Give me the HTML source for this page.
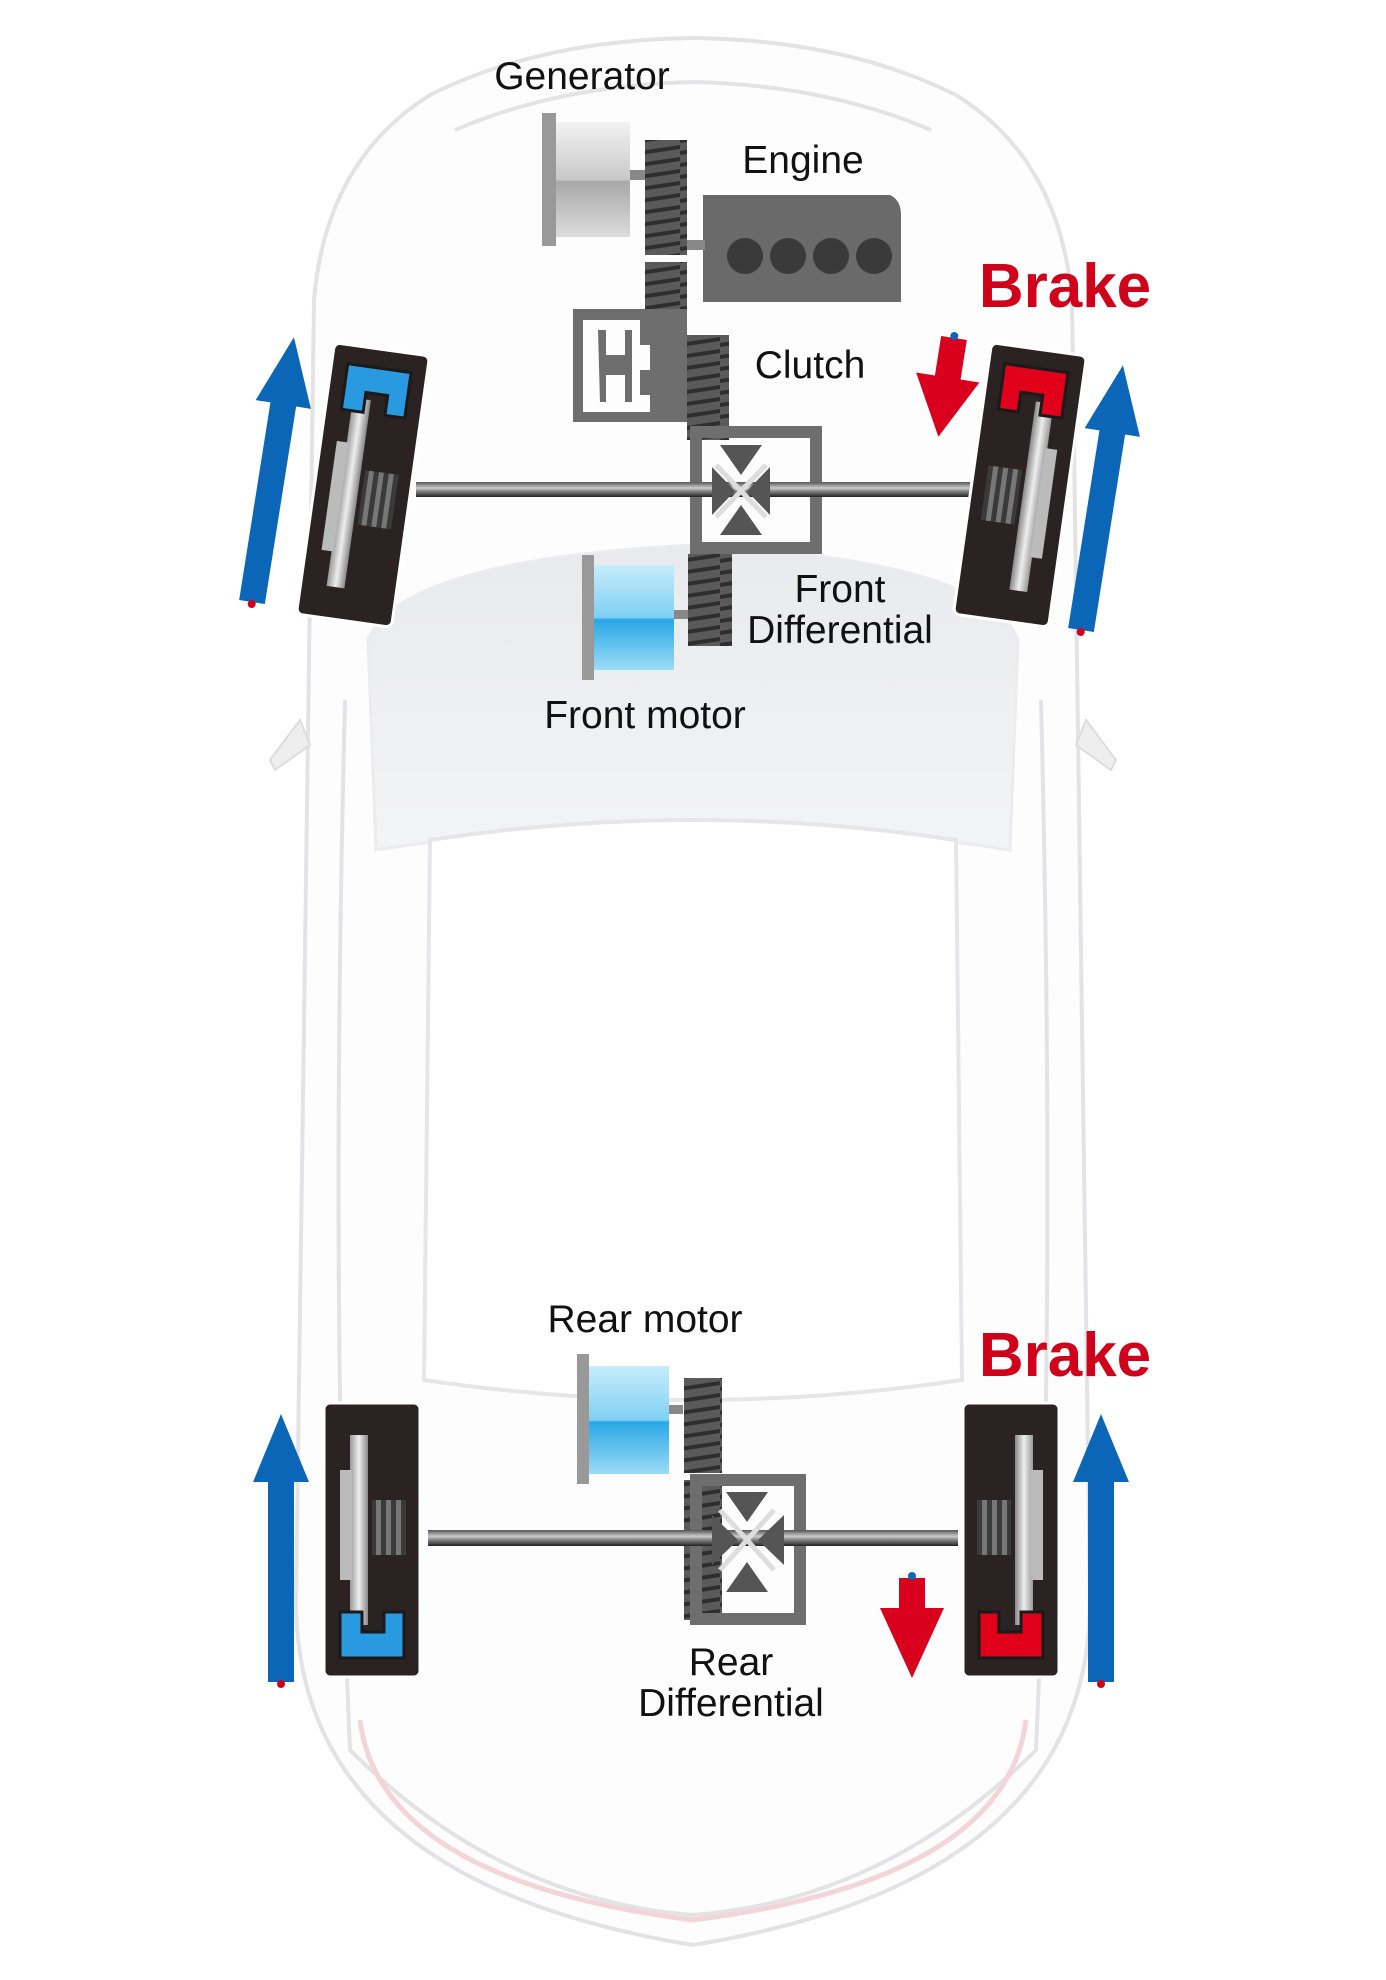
<!DOCTYPE html>
<html><head><meta charset="utf-8"><style>
html,body{margin:0;padding:0;background:#fff;}
svg{display:block;}
text{font-family:"Liberation Sans",sans-serif;}
</style></head><body>
<svg width="1386" height="1980" viewBox="0 0 1386 1980" xmlns="http://www.w3.org/2000/svg">
<defs>
<linearGradient id="ws" x1="0" y1="0" x2="0" y2="1"><stop offset="0" stop-color="#e9eaed"/><stop offset="1" stop-color="#f3f4f6"/></linearGradient>
<linearGradient id="blue" x1="0" y1="0" x2="0" y2="1"><stop offset="0" stop-color="#c8ecfb"/><stop offset="0.5" stop-color="#7fd0f3"/><stop offset="0.52" stop-color="#2aa7e6"/><stop offset="1" stop-color="#9bdcf6"/></linearGradient>
<linearGradient id="gen" x1="0" y1="0" x2="0" y2="1"><stop offset="0" stop-color="#f2f2f2"/><stop offset="0.5" stop-color="#c9c9c9"/><stop offset="0.52" stop-color="#a8a8a8"/><stop offset="1" stop-color="#dcdcdc"/></linearGradient>
<linearGradient id="axle" x1="0" y1="0" x2="0" y2="1"><stop offset="0" stop-color="#555"/><stop offset="0.4" stop-color="#ccc"/><stop offset="0.6" stop-color="#888"/><stop offset="1" stop-color="#222"/></linearGradient>
<linearGradient id="disc" x1="0" y1="0" x2="1" y2="0"><stop offset="0" stop-color="#999"/><stop offset="0.5" stop-color="#eee"/><stop offset="1" stop-color="#888"/></linearGradient>
<pattern id="gear" width="40" height="12" patternUnits="userSpaceOnUse"><rect width="40" height="12" fill="#5a5a5a"/><path d="M0 9 L40 3" stroke="#2e2e2e" stroke-width="4"/></pattern>
<g id="wheel">
<rect x="-48" y="-137" width="96" height="274" rx="6" fill="#2b2321" stroke="#fff" stroke-width="3"/>
<rect x="-22" y="-85" width="18" height="190" fill="url(#disc)"/>
<rect x="-32" y="-40" width="12" height="110" fill="#bbb"/>
<rect x="0" y="-15" width="34" height="55" fill="#3a3a3a"/>
<rect x="4" y="-15" width="5" height="55" fill="#777"/><rect x="14" y="-15" width="5" height="55" fill="#777"/><rect x="24" y="-15" width="5" height="55" fill="#777"/>
</g>
<g id="arrowUp"><polygon points="-13,0 13,0 13,-200 28,-200 0,-268 -28,-200 -13,-200" fill="#0c66b8"/><circle cx="0" cy="2" r="4" fill="#d0021b"/></g>
</defs>

<!-- car body -->
<g fill="none" stroke="#e3e3e6" stroke-width="4">
<path d="M430 95 Q540 40 693 38 Q846 40 956 95 Q1060 160 1072 300 L1090 1600 Q1090 1880 693 1945 Q296 1880 296 1600 L314 300 Q326 160 430 95 Z" fill="#fdfdfd"/>
<path d="M455 130 Q560 85 693 82 Q826 85 931 130" />
<path d="M345 700 Q330 1300 350 1750 Q500 1900 693 1915 Q886 1900 1036 1750 Q1056 1300 1041 700"/>
</g>
<path d="M368 640 Q400 560 693 545 Q986 560 1018 640 L1010 850 Q693 800 376 850 Z" fill="url(#ws)" stroke="#ececef" stroke-width="3"/>
<path d="M430 840 Q693 800 956 840 L962 1380 Q693 1420 424 1380 Z" fill="#fff" stroke="#e6e6e8" stroke-width="4"/>
<path d="M300 720 L270 760 L275 770 L310 745 Z" fill="#eee" stroke="#ddd" stroke-width="2"/>
<path d="M1086 720 L1116 760 L1111 770 L1076 745 Z" fill="#eee" stroke="#ddd" stroke-width="2"/>
<path d="M360 1720 Q380 1880 693 1920 Q1006 1880 1026 1720" fill="none" stroke="#f3d4d8" stroke-width="5"/>

<!-- front drivetrain -->
<rect x="542" y="113" width="14" height="133" fill="#999"/>
<rect x="556" y="122" width="74" height="115" fill="url(#gen)"/>
<rect x="630" y="170" width="16" height="10" fill="#888"/>
<rect x="645" y="140" width="42" height="115" fill="url(#gear)"/>
<rect x="645" y="262" width="42" height="60" fill="url(#gear)"/>
<path d="M703 195 L890 195 Q901 200 901 215 L901 302 L703 302 Z" fill="#6a6a6a"/>
<rect x="687" y="240" width="18" height="10" fill="#888"/>
<g fill="#3a3a3a"><circle cx="745" cy="256" r="18"/><circle cx="788" cy="256" r="18"/><circle cx="831" cy="256" r="18"/><circle cx="874" cy="256" r="18"/></g>
<path d="M573 309 L687 309 L687 422 L573 422 Z M583 320 L583 412 L650 412 L650 395 L640 395 L640 370 L650 370 L650 345 L640 345 L640 320 Z" fill="#6e6e6e" fill-rule="evenodd"/>
<path d="M598 330 L600 402 L606 402 L606 375 L625 375 L625 402 L632 402 L632 330 L625 330 L625 355 L606 355 L606 330 Z" fill="#6e6e6e"/>
<rect x="687" y="335" width="42" height="105" fill="url(#gear)"/>
<path d="M690 426 L822 426 L822 554 L690 554 Z M702 438 L702 542 L810 542 L810 438 Z" fill="#6e6e6e" fill-rule="evenodd"/>
<rect x="416" y="482" width="554" height="15" fill="url(#axle)"/>
<g fill="#555"><polygon points="720,445 762,445 741,475"/><polygon points="720,535 762,535 741,505"/><polygon points="712,467 712,515 735,491"/><polygon points="770,467 770,515 747,491"/></g>
<path d="M716 465 L766 517 M766 465 L716 517" stroke="#ddd" stroke-width="5"/>
<rect x="688" y="554" width="44" height="92" fill="url(#gear)"/>
<rect x="582" y="555" width="12" height="125" fill="#999"/>
<rect x="594" y="565" width="80" height="105" fill="url(#blue)"/>
<rect x="674" y="610" width="14" height="9" fill="#888"/>

<!-- front wheels -->
<g transform="translate(363,485) rotate(8)"><use href="#wheel"/><path d="M-32 -118 L32 -118 L32 -72 L12 -72 L12 -92 L-10 -92 L-10 -72 L-32 -72 Z" fill="#2a9ae0" stroke="#1a1a1a" stroke-width="3"/></g>
<g transform="translate(1020,485) rotate(8) scale(-1,1)"><use href="#wheel"/><path d="M-32 -118 L32 -118 L32 -72 L12 -72 L12 -92 L-10 -92 L-10 -72 L-32 -72 Z" fill="#e0001a" stroke="#1a1a1a" stroke-width="3"/></g>
<g transform="translate(252,602) rotate(9)"><use href="#arrowUp"/></g>
<g transform="translate(1081,630) rotate(9)"><use href="#arrowUp"/></g>
<g transform="translate(954,338) rotate(9)"><polygon points="-13,0 13,0 13,40 32,40 0,100 -32,40 -13,40" fill="#d8001c"/><circle cx="0" cy="-2" r="4" fill="#0c66b8"/></g>

<!-- rear drivetrain -->
<rect x="577" y="1354" width="12" height="130" fill="#999"/>
<rect x="589" y="1366" width="80" height="108" fill="url(#blue)"/>
<rect x="669" y="1405" width="14" height="9" fill="#888"/>
<rect x="684" y="1378" width="38" height="95" fill="url(#gear)"/>
<rect x="684" y="1480" width="38" height="140" fill="url(#gear)"/>
<path d="M690 1474 L806 1474 L806 1625 L690 1625 Z M702 1486 L702 1613 L794 1613 L794 1486 Z" fill="#6e6e6e" fill-rule="evenodd"/>
<rect x="428" y="1530" width="530" height="16" fill="url(#axle)"/>
<g fill="#555"><polygon points="726,1492 768,1492 747,1522"/><polygon points="726,1592 768,1592 747,1562"/><polygon points="712,1515 712,1565 738,1540"/><polygon points="784,1515 784,1565 758,1540"/></g>
<path d="M720 1510 L774 1570 M774 1510 L720 1570" stroke="#ddd" stroke-width="5"/>

<!-- rear wheels -->
<g transform="translate(372,1540) scale(1,-1)"><use href="#wheel"/><path d="M-32 -118 L32 -118 L32 -72 L12 -72 L12 -92 L-10 -92 L-10 -72 L-32 -72 Z" fill="#2a9ae0" stroke="#1a1a1a" stroke-width="3"/></g>
<g transform="translate(1011,1540) scale(-1,-1)"><use href="#wheel"/><path d="M-32 -118 L32 -118 L32 -72 L12 -72 L12 -92 L-10 -92 L-10 -72 L-32 -72 Z" fill="#e0001a" stroke="#1a1a1a" stroke-width="3"/></g>
<g transform="translate(281,1682)"><use href="#arrowUp"/></g>
<g transform="translate(1101,1682)"><use href="#arrowUp"/></g>
<g transform="translate(912,1578)"><polygon points="-13,0 13,0 13,30 32,30 0,100 -32,30 -13,30" fill="#d8001c"/><circle cx="0" cy="-2" r="4" fill="#0c66b8"/></g>

<!-- labels -->
<g font-size="39" fill="#111" text-anchor="middle">
<text x="582" y="89">Generator</text>
<text x="803" y="173">Engine</text>
<text x="810" y="378">Clutch</text>
<text x="840" y="602">Front</text>
<text x="840" y="643">Differential</text>
<text x="645" y="728">Front motor</text>
<text x="645" y="1332">Rear motor</text>
<text x="731" y="1675">Rear</text>
<text x="731" y="1716">Differential</text>
</g>
<g font-size="62" font-weight="bold" fill="#d0021b" text-anchor="middle">
<text x="1065" y="307">Brake</text>
<text x="1065" y="1376">Brake</text>
</g>
</svg>
</body></html>
